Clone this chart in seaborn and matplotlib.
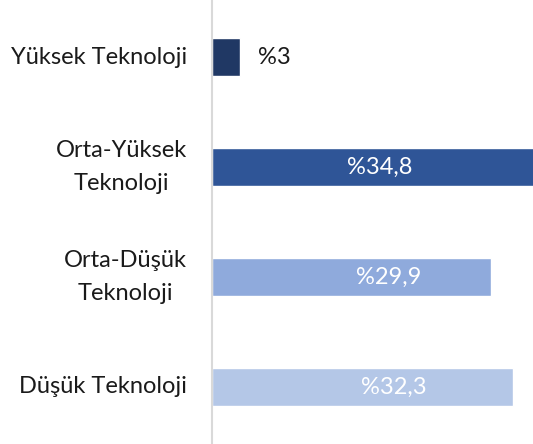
import matplotlib
matplotlib.use("Agg")
import matplotlib.pyplot as plt
import seaborn as sns
import pandas as pd

categories = ["Yüksek Teknoloji", "Orta-Yüksek\nTeknoloji", "Orta-Düşük\nTeknoloji", "Düşük Teknoloji"]
values = [3.0, 34.8, 29.9, 32.3]
value_labels = ["%3", "%34,8", "%29,9", "%32,3"]
colors = ["#203864", "#2F5597", "#8FAADC", "#B4C7E7"]
label_colors = ["#1a1a1a", "white", "white", "white"]

sns.set_theme(style="white")
plt.rcParams["font.family"] = ["Lato", "DejaVu Sans"]

df = pd.DataFrame({"cat": categories, "val": values})

fig = plt.figure(figsize=(5.33, 4.44), dpi=100)
ax = fig.add_axes([212 / 533, 0, (533 - 212) / 533, 1])
sns.barplot(data=df, y="cat", x="val", hue="cat", palette=colors, legend=False,
            orient="h", width=0.35, saturation=1, ax=ax)

ax.set_xlim(0, 34.45)
ax.set_ylim(3.52, -0.52)
ax.set_xlabel("")
ax.set_ylabel("")
ax.set_xticks([])
for s in ["top", "right", "bottom"]:
    ax.spines[s].set_visible(False)
ax.spines["left"].set_color("#D9D9D9")
ax.spines["left"].set_linewidth(1.5)
ax.tick_params(axis="y", length=0, pad=18, labelsize=17, labelcolor="#1a1a1a")
for t in ax.get_yticklabels():
    t.set_multialignment("center")
    t.set_linespacing(1.75)
    t.set_verticalalignment("center")

# label positions (data units)
label_x = [4.9, 18.0, 19.0, 19.5]
label_ha = ["left", "center", "center", "center"]
for i, (lx, txt) in enumerate(zip(label_x, value_labels)):
    ax.text(lx, i, txt, ha=label_ha[i], va="center", fontsize=17,
            color=label_colors[i], clip_on=False)

fig.savefig("out.png", dpi=100)
